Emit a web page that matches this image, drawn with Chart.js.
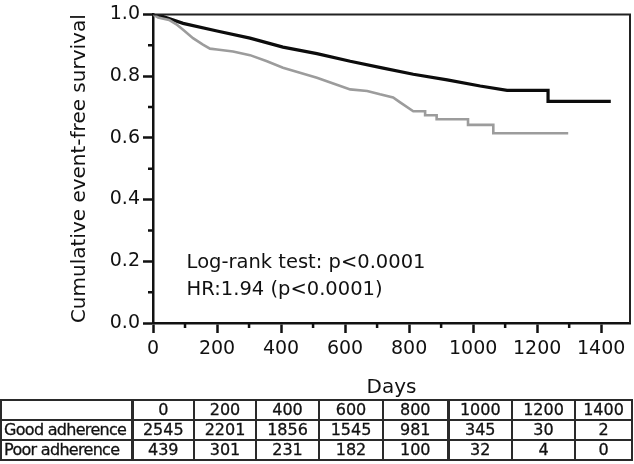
<!DOCTYPE html>
<html>
<head>
<meta charset="utf-8">
<script src="https://cdn.jsdelivr.net/npm/chart.js@4.4.1/dist/chart.umd.min.js"></script>
<style>
  body { margin: 0; background: #fff; }
  #wrap { position: relative; width: 634px; height: 464px; overflow: hidden; }
  #km { position: absolute; left: 0; top: 0; }
  #risk {
    position: absolute; left: 0; top: 399px;
    border-collapse: collapse; table-layout: fixed; width: 631px;
    font-family: "DejaVu Sans", sans-serif; font-size: 16px; color: #111;
    -webkit-text-stroke: 0.3px #111;
  }
  #risk td {
    border: 2px solid #2a2a2a; height: 18px; padding: 0;
    text-align: center; line-height: 18px; white-space: nowrap; overflow: hidden;
  }
  #risk td.lab { text-align: left; letter-spacing: -0.7px; padding-left: 2px; }
  #risk td.thick { border-left-width: 3px; }
</style>
</head>
<body>
<div id="wrap">
  <canvas id="km" width="634" height="400"></canvas>
  <table id="risk"></table>
</div>
<script>
  // Kaplan-Meier curves (days, survival);
  // a repeated day is a visible vertical step
  const goodDays = [0, 20, 94, 200, 303, 406, 512, 616, 719, 813, 919, 1022, 1106, 1234, 1234, 1430];
  const goodSurv = [1.0, 0.997, 0.971, 0.946, 0.923, 0.894, 0.873, 0.848, 0.826, 0.806, 0.788, 0.768, 0.754, 0.754, 0.718, 0.718];

  const poorDays = [0, 16, 50, 73, 94, 125, 156, 178, 200, 250, 303, 356, 406, 459, 512, 563, 616, 669, 709, 750, 772, 813, 850, 850, 886, 886, 984, 984, 1063, 1063, 1297];
  const poorSurv = [1.0, 0.99, 0.982, 0.968, 0.95, 0.923, 0.902, 0.889, 0.886, 0.880, 0.868, 0.848, 0.827, 0.811, 0.795, 0.776, 0.757, 0.752, 0.741, 0.731, 0.715, 0.686, 0.686, 0.673, 0.673, 0.660, 0.660, 0.642, 0.642, 0.615, 0.615];

  // numbers at risk
  const riskDays = [0, 200, 400, 600, 800, 1000, 1200, 1400];
  const groupNames = ["Good adherence", "Poor adherence"];
  const goodAtRisk = [2545, 2201, 1856, 1545, 981, 345, 30, 2];
  const poorAtRisk = [439, 301, 231, 182, 100, 32, 4, 0];

  const annotationLines = ["Log-rank test: p<0.0001", "HR:1.94 (p<0.0001)"];

  const FONT = '"DejaVu Sans", sans-serif';
  const INK = "#111";

  function toPoints(xs, ys) {
    return xs.map((x, i) => ({ x, y: ys[i] }));
  }

  // minor ticks halfway between the labelled ones, plus frame and text
  const extras = {
    id: "extras",
    afterDraw(chart) {
      const { ctx, chartArea } = chart;
      const xs = chart.scales.x;
      const ys = chart.scales.y;
      ctx.save();
      ctx.strokeStyle = INK;
      ctx.lineWidth = 2.5;
      ctx.beginPath();
      for (let i = 0; i < xs.ticks.length - 1; i++) {
        const v = (xs.ticks[i].value + xs.ticks[i + 1].value) / 2;
        const px = xs.getPixelForValue(v);
        ctx.moveTo(px, chartArea.bottom);
        ctx.lineTo(px, chartArea.bottom + 5);
      }
      for (let i = 0; i < ys.ticks.length - 1; i++) {
        const v = (ys.ticks[i].value + ys.ticks[i + 1].value) / 2;
        const py = ys.getPixelForValue(v);
        ctx.moveTo(chartArea.left, py);
        ctx.lineTo(chartArea.left - 5, py);
      }
      ctx.stroke();

      ctx.lineWidth = 2;
      ctx.strokeStyle = "#222";
      ctx.beginPath();
      ctx.moveTo(chartArea.left, chartArea.top);
      ctx.lineTo(chartArea.right, chartArea.top);
      ctx.lineTo(chartArea.right, chartArea.bottom);
      ctx.stroke();

      ctx.fillStyle = INK;
      ctx.font = "19.5px " + FONT;
      ctx.textBaseline = "alphabetic";
      ctx.textAlign = "left";
      const tx = xs.getPixelForValue(105);
      ctx.fillText(annotationLines[0], tx, ys.getPixelForValue(0.2) + 7);
      ctx.fillText(annotationLines[1], tx, ys.getPixelForValue(0.2) + 34);
      ctx.restore();
    },
  };

  new Chart(document.getElementById("km"), {
    type: "line",
    data: {
      datasets: [
        {
          label: "Poor adherence",
          data: toPoints(poorDays, poorSurv),
          borderColor: "#9c9c9c",
          borderWidth: 2.6,
          pointRadius: 0,
          tension: 0,
          fill: false,
        },
        {
          label: "Good adherence",
          data: toPoints(goodDays, goodSurv),
          borderColor: "#0c0c0c",
          borderWidth: 3.2,
          pointRadius: 0,
          tension: 0,
          fill: false,
        },
      ],
    },
    options: {
      responsive: false,
      animation: false,
      devicePixelRatio: 1,
      layout: { padding: { left: 0, top: 11, right: 4, bottom: 0 } },
      plugins: {
        legend: { display: false },
        tooltip: { enabled: false },
      },
      scales: {
        x: {
          type: "linear",
          min: 0,
          max: 1490,
          border: { width: 2.5, color: INK },
          grid: { drawOnChartArea: false, drawTicks: true, tickLength: 10, tickWidth: 2.5, tickColor: INK },
          ticks: {
            stepSize: 200,
            includeBounds: false,
            padding: 5,
            color: INK,
            font: { family: FONT, size: 19 },
            maxRotation: 0,
            callback: (v) => String(v),
          },
          title: {
            display: true,
            text: "Days",
            color: INK,
            font: { family: FONT, size: 20 },
            padding: { top: 0, bottom: 0 },
          },
          afterFit(scale) {
            scale.height = 77;
          },
        },
        y: {
          min: 0,
          max: 1,
          border: { width: 2.5, color: INK },
          grid: { drawOnChartArea: false, drawTicks: true, tickLength: 10, tickWidth: 2.5, tickColor: INK },
          ticks: {
            stepSize: 0.2,
            padding: 3,
            color: INK,
            font: { family: FONT, size: 19 },
            callback: (v) => v.toFixed(1),
          },
          title: {
            display: true,
            text: "Cumulative event-free survival",
            color: INK,
            font: { family: FONT, size: 20 },
            padding: { top: 68, bottom: 0 },
          },
          afterFit(scale) {
            scale.width = 153;
          },
        },
      },
    },
    plugins: [extras],
  });

  // numbers-at-risk table
  const table = document.getElementById("risk");
  const colWidths = [131, 62, 62, 63, 64, 65, 64, 63, 57];
  const cg = document.createElement("colgroup");
  colWidths.forEach((w) => {
    const c = document.createElement("col");
    c.style.width = w + "px";
    cg.appendChild(c);
  });
  table.appendChild(cg);

  function addRow(label, values) {
    const tr = document.createElement("tr");
    const first = document.createElement("td");
    first.className = "lab";
    first.textContent = label;
    tr.appendChild(first);
    values.forEach((v, i) => {
      const td = document.createElement("td");
      td.textContent = v;
      if (i === 0 || i === 5) td.className = "thick";
      tr.appendChild(td);
    });
    table.appendChild(tr);
  }
  addRow("", riskDays);
  addRow(groupNames[0], goodAtRisk);
  addRow(groupNames[1], poorAtRisk);
</script>
</body>
</html>
